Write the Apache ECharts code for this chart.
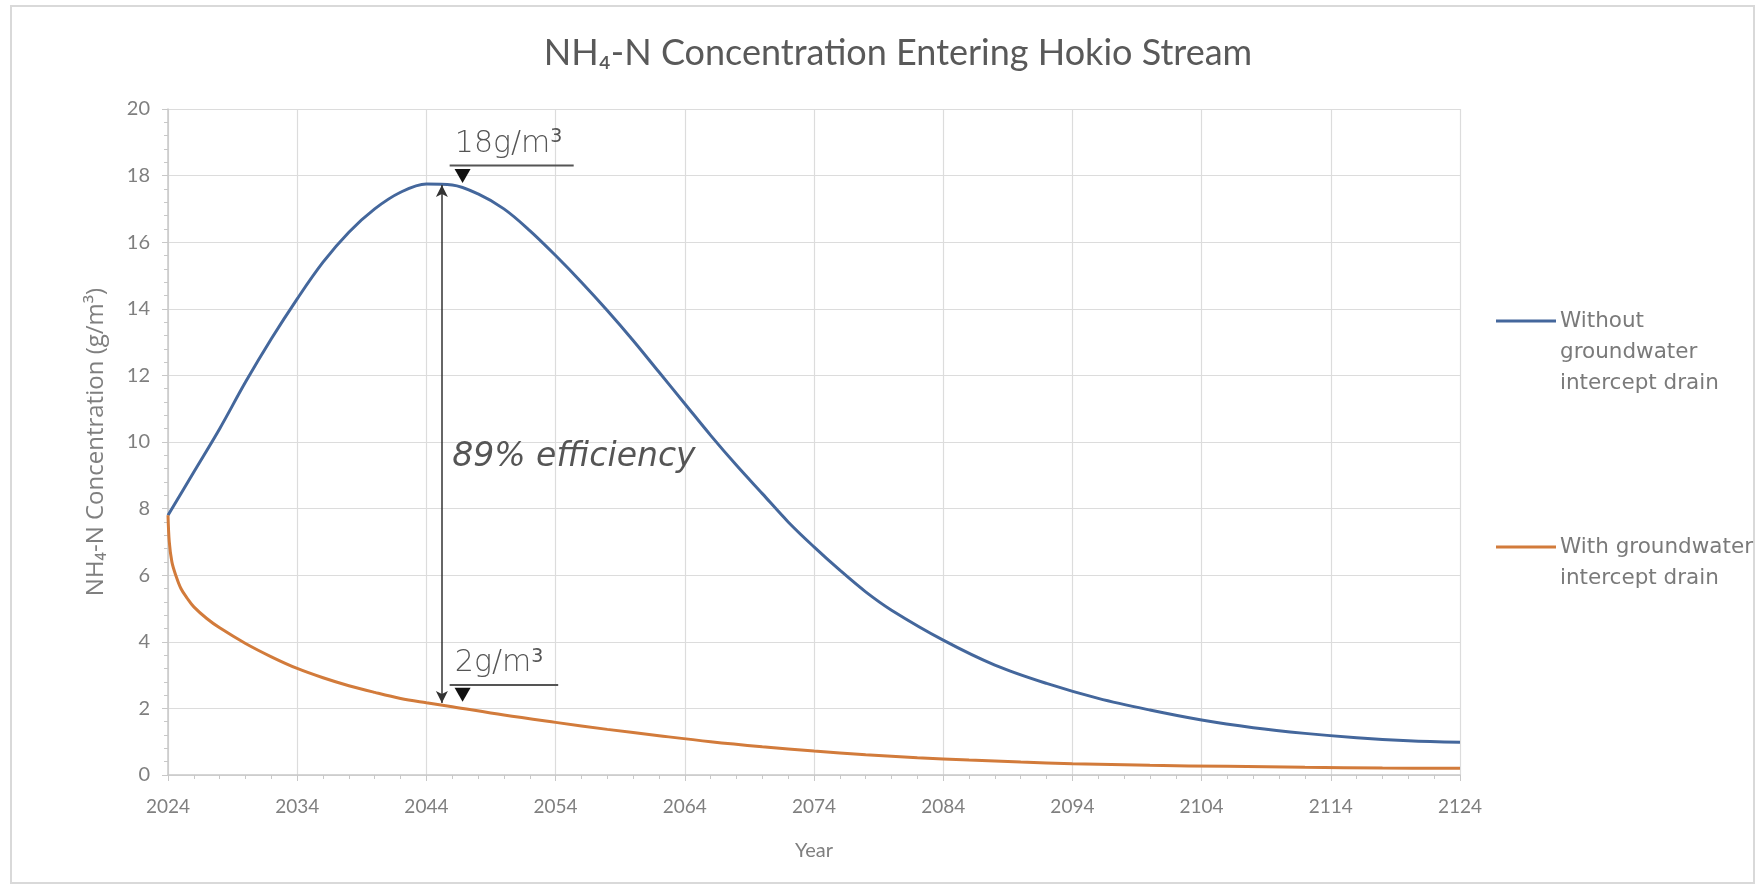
<!DOCTYPE html>
<html>
<head>
<meta charset="utf-8">
<script src="https://cdn.jsdelivr.net/npm/echarts@6/dist/echarts.min.js"></script>
<style>
html,body{margin:0;padding:0;background:#fff;}
#c{width:1757px;height:896px;}
</style>
</head>
<body>
<div id="c"></div>
<script>
// ---- data ----
const titleText = 'NH₄-N Concentration Entering Hokio Stream';
const seriesNames = ['Without groundwater intercept drain', 'With groundwater intercept drain'];
const legendLines = [['Without', 'groundwater', 'intercept drain'], ['With groundwater', 'intercept drain']];
const seriesColors = ['#44679c', '#d27b3b'];

const blueYears = [2024,2026,2028,2030,2032,2034,2036,2038,2040,2042,2044,2046,2048,2050,2052,2054,2056,2058,2060,2062,2064,2066,2068,2070,2072,2074,2076,2078,2080,2084,2088,2092,2096,2100,2104,2108,2112,2116,2120,2124];
const blueValues = [7.8,9.1,10.4,11.8,13.1,14.3,15.4,16.3,17.0,17.5,17.75,17.72,17.45,17.0,16.35,15.6,14.8,13.95,13.05,12.1,11.15,10.2,9.3,8.45,7.6,6.85,6.15,5.5,4.95,4.05,3.3,2.75,2.3,1.95,1.65,1.42,1.25,1.12,1.03,0.98];

const orangeYears = [2024,2024.1,2024.3,2024.6,2025,2025.5,2026,2027,2028,2030,2032,2034,2036,2038,2040,2042,2044,2046,2050,2054,2058,2062,2066,2070,2074,2078,2082,2086,2090,2094,2100,2106,2112,2118,2124];
const orangeValues = [7.8,7.0,6.4,6.0,5.6,5.3,5.05,4.7,4.42,3.95,3.55,3.2,2.92,2.68,2.48,2.3,2.17,2.05,1.8,1.58,1.37,1.18,1.0,0.85,0.72,0.61,0.52,0.45,0.39,0.34,0.29,0.26,0.23,0.21,0.2];

const xTicks = [2024,2034,2044,2054,2064,2074,2084,2094,2104,2114,2124];
const yTicks = [0,2,4,6,8,10,12,14,16,18,20];

// annotations (data coordinates)
const arrowYear = 2045.2, arrowTop = 17.72, arrowBottom = 2.16;
const effText = '89% efficiency', effPos = [2046.0, 9.55];
const peakLabel = {main: '18g/m', sup: '3', pos: [2046.2, 18.45], line: [2045.8, 2055.4, 18.3], tri: [2046.8, 17.78]};
const lowLabel = {main: '2g/m', sup: '3', pos: [2046.2, 2.85], line: [2045.8, 2054.2, 2.7], tri: [2046.8, 2.2]};

const chart = echarts.init(document.getElementById('c'), null, {renderer: 'canvas'});
const pair = (xs, ys) => xs.map((x, i) => [x, ys[i]]);
const axisColor = '#7f7f7f';
const fontFam = 'Lato, "Open Sans", sans-serif';

const option = {
  backgroundColor: '#ffffff',
  animation: false,
  title: {
    text: titleText,
    left: 893, top: 30, textAlign: 'center',
    textStyle: {fontFamily: fontFam, fontSize: 36, fontWeight: 'normal', color: '#595959'}
  },
  grid: {left: 168, top: 109, right: 297, bottom: 121, containLabel: false},
  xAxis: {
    type: 'value', min: 2024, max: 2124, interval: 10,
    name: 'Year', nameLocation: 'middle', nameGap: 66,
    nameTextStyle: {fontFamily: fontFam, fontSize: 20, color: axisColor},
    axisLine: {lineStyle: {color: '#c8c8c8', width: 1.5}},
    axisTick: {show: true, length: 6, lineStyle: {color: '#c8c8c8'}},
    minorTick: {show: true, splitNumber: 5, length: 4, lineStyle: {color: '#c8c8c8'}},
    axisLabel: {fontFamily: fontFam, fontSize: 19, color: axisColor, margin: 22, formatter: v => String(v)},
    splitLine: {show: true, lineStyle: {color: '#dcdcdc', width: 1.2}}
  },
  yAxis: {
    type: 'value', min: 0, max: 20, interval: 2,
    name: 'NH₄-N Concentration (g/m³)', nameLocation: 'middle', nameGap: 60, nameRotate: 90,
    nameTextStyle: {fontFamily: '"Open Sans", sans-serif', fontSize: 24, color: axisColor},
    axisLine: {show: true, lineStyle: {color: '#c8c8c8', width: 1.5}},
    axisTick: {show: true, length: 6, lineStyle: {color: '#c8c8c8'}},
    minorTick: {show: true, splitNumber: 5, length: 4, lineStyle: {color: '#c8c8c8'}},
    axisLabel: {fontFamily: fontFam, fontSize: 20, color: axisColor, margin: 18},
    splitLine: {show: true, lineStyle: {color: '#dcdcdc', width: 1.2}}
  },
  series: [
    {
      name: seriesNames[0], type: 'line', data: pair(blueYears, blueValues),
      smooth: 0.35, showSymbol: false,
      lineStyle: {color: seriesColors[0], width: 3}, itemStyle: {color: seriesColors[0]}, z: 3,
      markLine: {
        silent: true, symbol: ['arrow', 'arrow'], symbolSize: [9, 12], label: {show: false},
        lineStyle: {color: '#333333', width: 1.5, type: 'solid'},
        data: [[{coord: [arrowYear, arrowBottom]}, {coord: [arrowYear, arrowTop]}]]
      }
    },
    {
      name: seriesNames[1], type: 'line', data: pair(orangeYears, orangeValues),
      smooth: 0.35, showSymbol: false,
      lineStyle: {color: seriesColors[1], width: 3}, itemStyle: {color: seriesColors[1]}, z: 3
    }
  ]
};
chart.setOption(option);

function px(p) { return chart.convertToPixel({gridIndex: 0}, p); }

function labelGraphics(lab) {
  const p = px(lab.pos);
  const l0 = px([lab.line[0], lab.line[2]]), l1 = px([lab.line[1], lab.line[2]]);
  const t = px(lab.tri);
  return [
    {type: 'text', x: p[0], y: p[1], z: 10, style: {
      text: '{m|' + lab.main + '}{s|' + lab.sup + '}', textVerticalAlign: 'bottom', verticalAlign: 'bottom',
      rich: {m: {fontFamily: '"DejaVu Sans", sans-serif', fontSize: 30, fill: '#555555', fontWeight: 200},
             s: {fontFamily: '"DejaVu Sans", sans-serif', fontSize: 19, fill: '#555555', verticalAlign: 'top', padding: [0, 0, 14, 0]}}
    }},
    {type: 'line', z: 10, shape: {x1: l0[0], y1: l0[1], x2: l1[0], y2: l1[1]}, style: {stroke: '#555555', lineWidth: 2}},
    {type: 'polygon', z: 11, shape: {points: [[t[0] - 8, t[1] - 14], [t[0] + 8, t[1] - 14], [t[0], t[1]]]}, style: {fill: '#111111'}}
  ];
}

function legendGraphics() {
  const g = [];
  const tops = [321, 547];
  for (let i = 0; i < 2; i++) {
    g.push({type: 'line', shape: {x1: 1496, y1: tops[i], x2: 1556, y2: tops[i]}, style: {stroke: seriesColors[i], lineWidth: 3}});
    legendLines[i].forEach((s, k) => {
      g.push({type: 'text', x: 1560, y: tops[i] + k * 31, style: {text: s, fontFamily: '"DejaVu Sans", sans-serif', fontSize: 21.5, fill: '#7a7a7a', textVerticalAlign: 'middle', verticalAlign: 'middle'}});
    });
  }
  return g;
}

const ep = px(effPos);
const graphics = [
  {type: 'rect', shape: {x: 11, y: 6, width: 1743, height: 877}, style: {fill: 'none', stroke: '#d9d9d9', lineWidth: 2}, z: -1, silent: true},
  {type: 'text', x: ep[0], y: ep[1], z: 10, style: {text: effText, fontFamily: '"DejaVu Sans", sans-serif', fontSize: 33, fontWeight: 200, fontStyle: 'italic', fill: '#555555', textVerticalAlign: 'middle', verticalAlign: 'middle'}}
].concat(labelGraphics(peakLabel), labelGraphics(lowLabel), legendGraphics());

chart.setOption({graphic: graphics});
</script>
</body>
</html>
